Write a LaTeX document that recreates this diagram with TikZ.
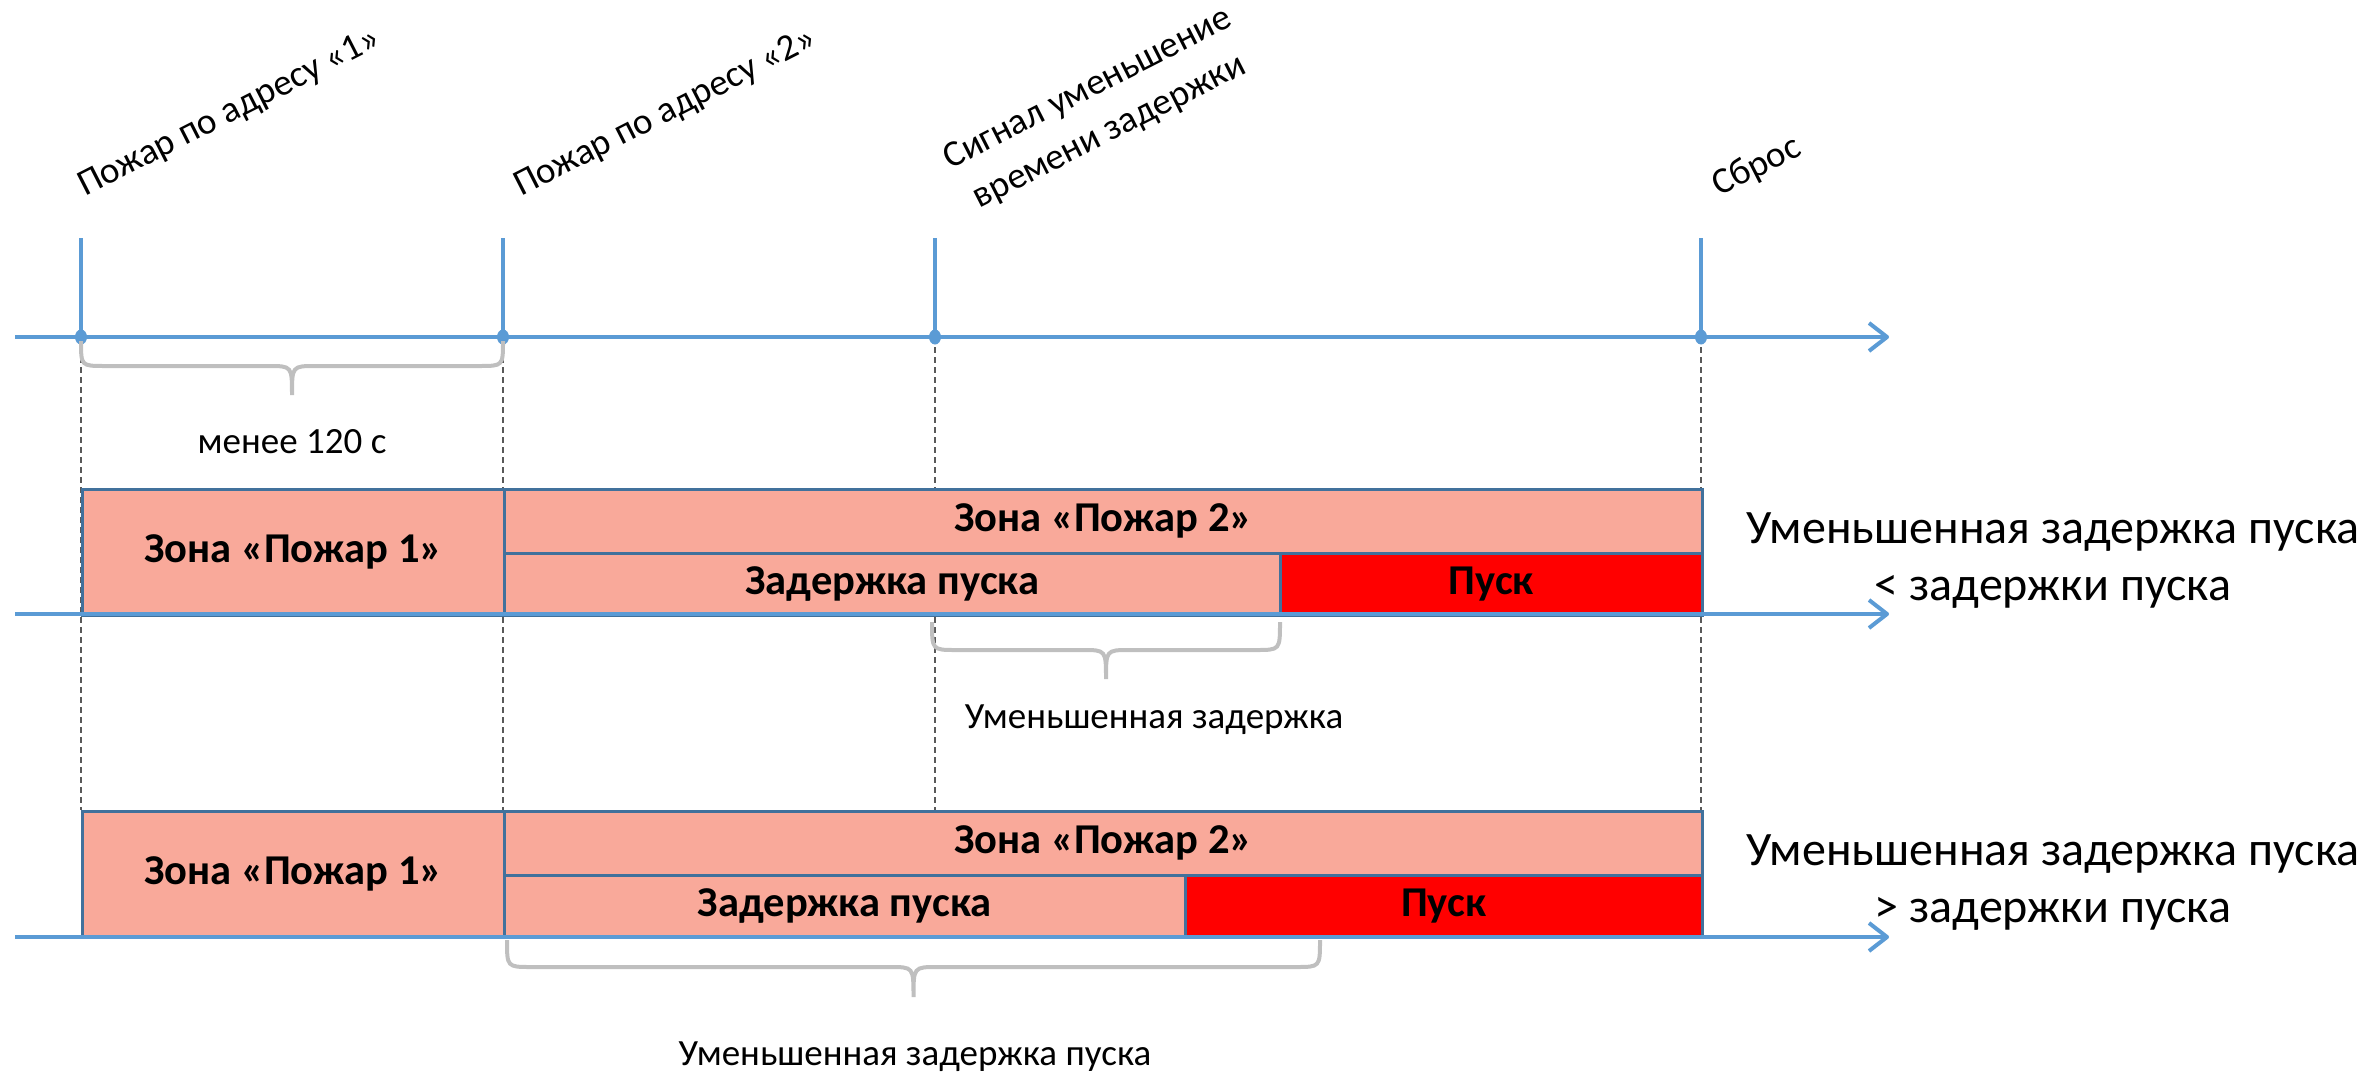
\documentclass[tikz,border=0pt]{standalone}
\usepackage{fontspec}
\setmainfont{Carlito}
\usetikzlibrary{arrows.meta}

\definecolor{axisblue}{HTML}{5B9BD5}
\definecolor{boxline}{HTML}{41719C}
\definecolor{zonefill}{HTML}{F9A99A}
\definecolor{launchred}{HTML}{FF0000}
\definecolor{bracegray}{HTML}{BFBFBF}
\definecolor{guidegray}{HTML}{595959}

\newcommand\lblfont{\fontsize{37}{48}\selectfont}
\newcommand\zonefont{\fontsize{42.5}{48}\selectfont\bfseries}
\newcommand\notefont{\fontsize{48}{57}\selectfont}

% curly brace under an interval: x1, x2, y of the ends, y of the bar, y of the tip
\newcommand\spanbrace[5]{%
  \pgfmathsetmacro\bmid{(#1+#2)/2}%
  \draw[brace] (#1,#3) .. controls (#1,#4) and (#1,#4) .. ({#1+24},#4)
    -- ({\bmid-24},#4) .. controls (\bmid,#4) and (\bmid,#4) .. (\bmid,#5)
    .. controls (\bmid,#4) and (\bmid,#4) .. ({\bmid+24},#4)
    -- ({#2-24},#4) .. controls (#2,#4) and (#2,#4) .. (#2,#3);
}

\begin{document}
\begin{tikzpicture}[x=1pt,y=-1pt,
  axis/.style={draw=axisblue, line width=4pt, line join=round,
    -{Straight Barb[length=18pt,width=28pt,line join=round]}},
  tick/.style={draw=axisblue, line width=4pt},
  guide/.style={draw=guidegray, line width=1.5pt, dash pattern=on 6pt off 4pt},
  brace/.style={draw=bracegray, line width=4pt},
  zone/.style={draw=boxline, line width=2.5pt, fill=zonefill, inner sep=0pt,
    font=\zonefont, anchor=north west},
  launch/.style={zone, fill=launchred},
  lbl/.style={inner sep=0pt, font=\lblfont},
  tilted/.style={lbl, rotate=27},
  note/.style={inner sep=0pt, font=\notefont, align=center}]

\useasboundingbox (0,0) rectangle (2379,1073);

% event moments on the upper time line
\coordinate (t1) at (81,337);
\coordinate (t2) at (503,337);
\coordinate (t3) at (935,337);
\coordinate (t4) at (1701,337);
\coordinate (t1top) at (81,238);
\coordinate (t2top) at (503,238);
\coordinate (t3top) at (935,238);
\coordinate (t4top) at (1701,238);
\coordinate (g1) at (81,810);
\coordinate (g2) at (503,810);
\coordinate (g3) at (935,810);
\coordinate (g4) at (1701,810);

% dashed guides down through both scenarios
\foreach \i in {1,...,4} \draw[guide] (t\i) -- (g\i);

% scenario 1: reduced delay shorter than the start delay
\node[zone, minimum width=422pt, minimum height=126pt] (z1a) at (81,488) {Зона «Пожар 1»};
\node[zone, minimum width=1198pt, minimum height=64pt] (z2a) at (503,488) {Зона «Пожар 2»};
\node[zone, minimum width=776pt, minimum height=62pt] (d2a) at (503,552) {Задержка пуска};
\node[launch, minimum width=422pt, minimum height=62pt] (p2a) at (1279,552) {Пуск};

% scenario 2: reduced delay longer than the start delay
\node[zone, minimum width=422pt, minimum height=126pt] (z1b) at (81,810) {Зона «Пожар 1»};
\node[zone, minimum width=1198pt, minimum height=64pt] (z2b) at (503,810) {Зона «Пожар 2»};
\node[zone, minimum width=681pt, minimum height=62pt] (d2b) at (503,874) {Задержка пуска};
\node[launch, minimum width=517pt, minimum height=62pt] (p2b) at (1184,874) {Пуск};

% time axes
\coordinate (a0s) at (15,337);  \coordinate (a0e) at (1889,337);
\coordinate (a1s) at (15,614);  \coordinate (a1e) at (1889,614);
\coordinate (a2s) at (15,937);  \coordinate (a2e) at (1889,937);
\draw[axis] (a0s) -- (a0e);
\draw[axis] (a1s) -- (a1e);
\draw[axis] (a2s) -- (a2e);

\foreach \i in {1,...,4} {
  \draw[tick] (t\i top) -- (t\i);
  \fill[axisblue] (t\i) ellipse [x radius=6pt, y radius=7.5pt];
}

% event labels
\node[tilted, anchor=base west] (l1) at (85,197) {Пожар по адресу «1»};
\node[tilted, anchor=base west] (l2) at (521,197) {Пожар по адресу «2»};
\node[tilted, align=center] (l3) at (1099,111) {Сигнал уменьшение\\времени задержки};
\node[tilted, anchor=base west] (l4) at (1719,197) {Сброс};

% interval braces and their captions
\spanbrace{81}{503}{341}{366}{395}
\node[lbl, anchor=base] (c1) at (292,453) {менее 120 с};
\spanbrace{932}{1280}{622}{650}{679}
\node[lbl, anchor=base] (c2) at (1154,728) {Уменьшенная задержка};
\spanbrace{507}{1320}{940}{967}{997}
\node[lbl, anchor=base] (c3) at (915,1065) {Уменьшенная задержка пуска};

% conditions of each scenario
\node[note, anchor=north] (r1) at (2053,512) {Уменьшенная задержка пуска\\< задержки пуска};
\node[note, anchor=north] (r2) at (2053,834) {Уменьшенная задержка пуска\\> задержки пуска};

\end{tikzpicture}
\end{document}
